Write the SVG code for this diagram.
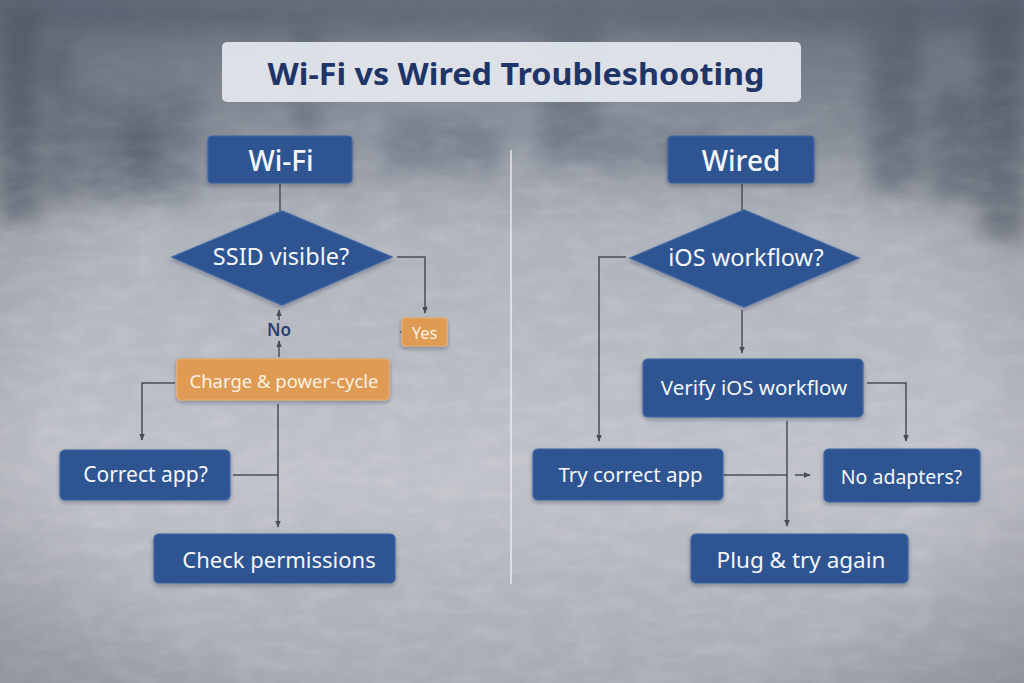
<svg xmlns="http://www.w3.org/2000/svg" width="1024" height="683" viewBox="0 0 1024 683">
<defs>
<linearGradient id="bg" x1="0" y1="0" x2="0" y2="1">
<stop offset="0" stop-color="#7a8190"/>
<stop offset="0.2" stop-color="#8e949f"/>
<stop offset="0.34" stop-color="#aeb2ba"/>
<stop offset="0.7" stop-color="#bfc2c8"/>
<stop offset="1" stop-color="#a6aab1"/>
</linearGradient>
<radialGradient id="vig" cx="0.5" cy="0.6" r="0.8">
<stop offset="0.55" stop-color="#000" stop-opacity="0"/>
<stop offset="1" stop-color="#2a3040" stop-opacity="0.3"/>
</radialGradient>
<linearGradient id="fade" x1="0" y1="0" x2="0" y2="1">
<stop offset="0" stop-color="#fff" stop-opacity="0.2"/>
<stop offset="0.3" stop-color="#fff" stop-opacity="1"/>
<stop offset="1" stop-color="#fff" stop-opacity="1"/>
</linearGradient>
<mask id="nmask"><rect x="0" y="0" width="1024" height="683" fill="url(#fade)"/></mask>
<filter id="blur" x="-20%" y="-20%" width="140%" height="140%"><feGaussianBlur stdDeviation="10"/></filter>
<filter id="noise" x="0" y="0" width="100%" height="100%">
<feTurbulence type="fractalNoise" baseFrequency="0.03 0.07" numOctaves="3" seed="4"/>
<feColorMatrix type="matrix" values="0 0 0 0 1  0 0 0 0 1  0 0 0 0 1  0 0 0 -1.6 1.0"/>
</filter>
<filter id="shadow" x="-10%" y="-20%" width="120%" height="150%"><feDropShadow dx="0" dy="2" stdDeviation="2" flood-color="#1a2233" flood-opacity="0.35"/></filter>
<marker id="ah" viewBox="0 0 10 10" refX="9" refY="5" markerWidth="7" markerHeight="7" orient="auto-start-reverse" markerUnits="userSpaceOnUse">
<path d="M0,1 L10,5 L0,9 z" fill="#474b55"/>
</marker>
</defs>
<style>
.node{fill:#2d5592;stroke:#3d66a6;stroke-width:1.2;filter:url(#shadow)}
.orange{fill:#df9a52;stroke:#e8ad6c;stroke-width:1.2;filter:url(#shadow)}
.lbl{font-family:"Noto Sans","Open Sans",sans-serif;fill:#f4f6fa;text-anchor:middle;dominant-baseline:central}
.olbl{font-family:"Noto Sans","Open Sans",sans-serif;fill:#fbf1e2;text-anchor:middle;dominant-baseline:central}
.conn{fill:none;stroke:#4a4e57;stroke-width:1.5}
</style>
<!-- background -->
<rect x="0" y="0" width="1024" height="683" fill="url(#bg)"/>
<g filter="url(#blur)" opacity="0.6">
<rect x="0" y="0" width="1024" height="30" fill="#646c7b"/>
<rect x="0" y="0" width="40" height="220" fill="#555d6c"/>
<rect x="50" y="40" width="20" height="160" fill="#5a6270"/>
<rect x="60" y="90" width="140" height="110" fill="#6a7280"/>
<rect x="120" y="120" width="40" height="60" fill="#4d5564"/>
<rect x="380" y="115" width="120" height="55" fill="#6e7684"/>
<rect x="290" y="0" width="30" height="130" fill="#646c7a"/>
<rect x="540" y="0" width="60" height="160" fill="#626a79"/>
<rect x="600" y="120" width="120" height="50" fill="#737a87"/>
<rect x="870" y="0" width="50" height="190" fill="#5d6573"/>
<rect x="930" y="90" width="94" height="110" fill="#5f6775"/>
<rect x="980" y="0" width="44" height="240" fill="#58606e"/>
</g>
<rect x="0" y="0" width="1024" height="683" filter="url(#noise)" opacity="0.16" mask="url(#nmask)"/>
<rect x="0" y="0" width="1024" height="683" fill="url(#vig)"/>

<!-- title -->
<g id="title">
<rect x="222" y="42" width="579" height="60" rx="5" fill="#e4e7ee" fill-opacity="0.93"/>
<text x="516" y="73" font-family="Noto Sans,'Open Sans',sans-serif" font-weight="700" font-size="31" fill="#1f3567" text-anchor="middle" dominant-baseline="central" textLength="497" lengthAdjust="spacingAndGlyphs">Wi-Fi vs Wired Troubleshooting</text>
</g>

<!-- divider -->
<line x1="511" y1="150" x2="511" y2="584" stroke="#eef0f4" stroke-width="1.5" opacity="0.9"/>

<!-- connectors -->
<g id="connectors">
<line class="conn" x1="280" y1="184" x2="280" y2="211"/>
<path class="conn" d="M397,257 H425 V313" marker-end="url(#ah)"/>
<line class="conn" x1="400" y1="332" x2="404" y2="332"/>
<line class="conn" x1="279" y1="320" x2="279" y2="310" marker-end="url(#ah)"/>
<line class="conn" x1="279" y1="357" x2="279" y2="341" marker-end="url(#ah)"/>
<path class="conn" d="M175,383 H142 V440" marker-end="url(#ah)"/>
<line class="conn" x1="278" y1="404" x2="278" y2="527" marker-end="url(#ah)"/>
<line class="conn" x1="233" y1="475" x2="278" y2="475"/>
<line class="conn" x1="742" y1="184" x2="742" y2="211"/>
<path class="conn" d="M626,257 H599 V441" marker-end="url(#ah)"/>
<line class="conn" x1="742" y1="310" x2="742" y2="353" marker-end="url(#ah)"/>
<path class="conn" d="M867,383 H906 V441" marker-end="url(#ah)"/>
<line class="conn" x1="787" y1="421" x2="787" y2="526" marker-end="url(#ah)"/>
<line class="conn" x1="724" y1="475" x2="787" y2="475"/>
<line class="conn" x1="795" y1="475" x2="810" y2="475" marker-end="url(#ah)"/>
</g>

<!-- Wi-Fi side -->
<g id="wifi">
<rect class="node" x="208" y="136" width="144" height="47" rx="4"/>
<text class="lbl" x="281" y="159.5" font-size="28" font-weight="500">Wi-Fi</text>
</g>
<g id="ssid">
<polygon class="node" points="172,257 282,211 392,257 282,305"/>
<text class="lbl" x="281" y="256" font-size="23.5">SSID visible?</text>
</g>
<g id="no">
<text x="279" y="329" font-family="Noto Sans,'Open Sans',sans-serif" font-size="17" font-weight="600" fill="#2a3f6e" text-anchor="middle" dominant-baseline="central">No</text>
</g>
<g id="yes">
<rect class="orange" x="402" y="318" width="45" height="28" rx="3"/>
<text class="olbl" x="424.5" y="332" font-size="16.5">Yes</text>
</g>
<g id="charge">
<rect class="orange" x="177" y="359" width="212" height="41" rx="4"/>
<text class="olbl" x="284" y="380" font-size="18.5">Charge &amp; power-cycle</text>
</g>
<g id="correct-app">
<rect class="node" x="60" y="450" width="170" height="50" rx="5"/>
<text class="lbl" x="145.5" y="474" font-size="21">Correct app?</text>
</g>
<g id="check-permissions">
<rect class="node" x="154" y="534" width="241" height="49" rx="5"/>
<text class="lbl" x="279" y="559" font-size="22">Check permissions</text>
</g>

<!-- Wired side -->
<g id="wired">
<rect class="node" x="668" y="136" width="146" height="47" rx="4"/>
<text class="lbl" x="741" y="159.5" font-size="28" font-weight="500">Wired</text>
</g>
<g id="ios">
<polygon class="node" points="630,258 744,210 859,258 744,307"/>
<text class="lbl" x="746" y="257" font-size="23.5">iOS workflow?</text>
</g>
<g id="verify">
<rect class="node" x="643" y="359" width="220" height="58" rx="5"/>
<text class="lbl" x="754" y="387" font-size="20.5">Verify iOS workflow</text>
</g>
<g id="try-app">
<rect class="node" x="533" y="449" width="190" height="51" rx="5"/>
<text class="lbl" x="630.5" y="474" font-size="20.5">Try correct app</text>
</g>
<g id="no-adapters">
<rect class="node" x="824" y="449" width="156" height="53" rx="5"/>
<text class="lbl" x="901.5" y="476" font-size="19.5">No adapters?</text>
</g>
<g id="plug">
<rect class="node" x="691" y="534" width="217" height="49" rx="5"/>
<text class="lbl" x="801" y="559" font-size="22.5">Plug &amp; try again</text>
</g>
</svg>
